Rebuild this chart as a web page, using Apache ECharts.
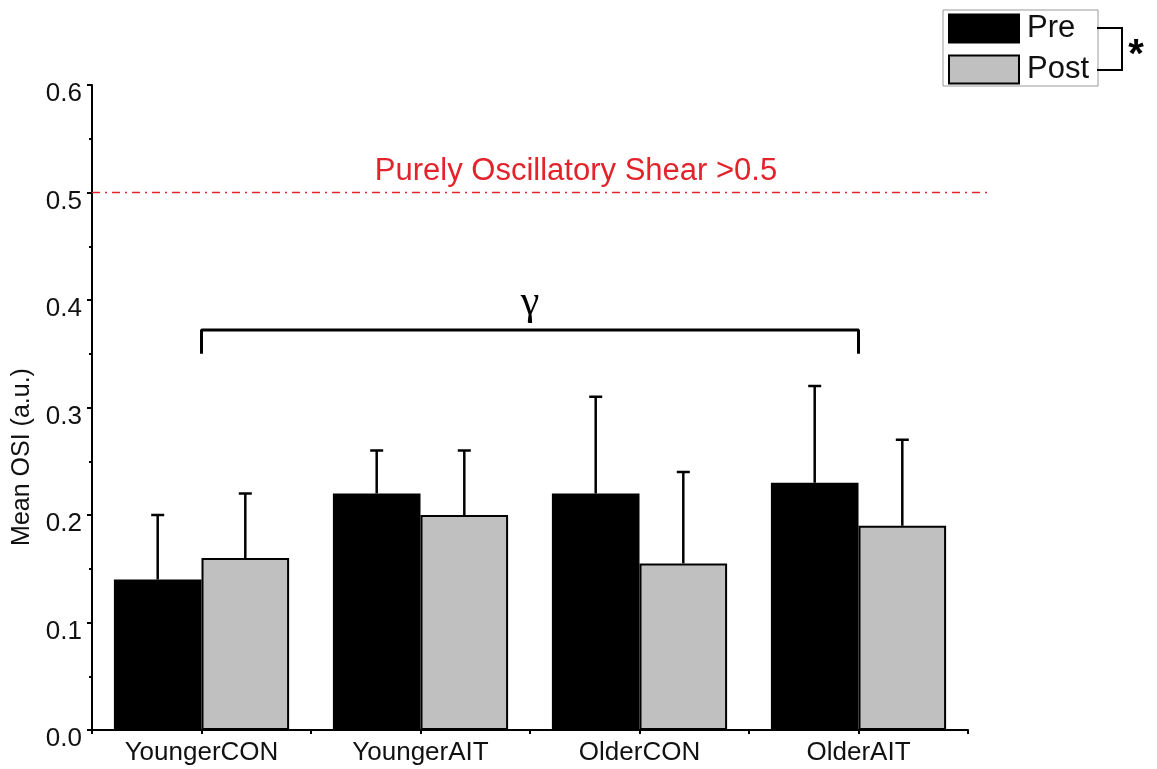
<!DOCTYPE html>
<html>
<head>
<meta charset="utf-8">
<script src="https://cdn.jsdelivr.net/npm/echarts/dist/echarts.min.js"></script>
<style>
  html, body { margin: 0; padding: 0; background: #ffffff; }
  #chart { width: 1157px; height: 769px; }
</style>
</head>
<body>
<div id="chart"></div>
<script>
// Groups on the x axis
const categories = ['YoungerCON', 'YoungerAIT', 'OlderCON', 'OlderAIT'];
// Mean oscillatory shear index per group, before and after training
const preMean  = [0.14, 0.22, 0.22, 0.23];
const postMean = [0.16, 0.20, 0.155, 0.19];
// Standard deviations (upper error bars)
const preSD  = [0.06, 0.04, 0.09, 0.09];
const postSD = [0.06, 0.06, 0.085, 0.08];
// Y axis range and reference threshold
const yTicks = { min: 0, max: 0.6, interval: 0.1 };
const oscThreshold = 0.5;
// Group-effect bracket: spans first to last group
const bracketSpan = [0, 3];
const bracketLevels = { foot: 0.35, top: 0.372 };

const FONT = '"Liberation Sans", Arial, sans-serif';
const GRID = { left: 92, right: 189, top: 85, bottom: 39 };

const chart = echarts.init(document.getElementById('chart'), null, { renderer: 'canvas' });

function errorBars(name, means, sds, side) {
  return {
    type: 'custom',
    name: name,
    z: 5,
    silent: true,
    data: means.map((m, i) => [i, m, m + sds[i]]),
    renderItem: function (params, api) {
      const i = api.value(0);
      const base = api.coord([i, api.value(1)]);
      const top = api.coord([i, api.value(2)]);
      const band = api.size([1, 0])[0];
      const x = base[0] + side * band * 0.2;
      const cap = 6.5;
      const st = { stroke: '#000', lineWidth: 2.5 };
      return {
        type: 'group',
        children: [
          { type: 'line', shape: { x1: x, y1: base[1], x2: x, y2: top[1] }, style: st },
          { type: 'line', shape: { x1: x - cap, y1: top[1], x2: x + cap, y2: top[1] }, style: st }
        ]
      };
    }
  };
}

const bracketData = [
  [bracketSpan[0], bracketLevels.foot],
  [bracketSpan[0], bracketLevels.top],
  [bracketSpan[1], bracketLevels.top],
  [bracketSpan[1], bracketLevels.foot]
];

const option = {
  backgroundColor: '#ffffff',
  animation: false,
  textStyle: { fontFamily: FONT },
  grid: GRID,
  legend: {
    data: ['Pre', 'Post'],
    orient: 'vertical',
    left: 943,
    top: 10,
    padding: [3, 9, 1, 5],
    itemWidth: 70,
    itemHeight: 28,
    itemGap: 10,
    icon: 'rect',
    borderColor: '#9a9a9a',
    borderWidth: 1,
    selectedMode: false,
    textStyle: { fontFamily: FONT, fontSize: 31, color: '#111', lineHeight: 28, padding: [0, 0, 0, 3] }
  },
  xAxis: [
    {
      type: 'category',
      data: categories,
      axisLine: { lineStyle: { color: '#000', width: 2 } },
      axisTick: { show: true, length: 4, lineStyle: { color: '#000', width: 2 } },
      axisLabel: { fontFamily: FONT, fontSize: 26, color: '#111', margin: 10 },
      splitLine: { show: false }
    },
    {
      type: 'category',
      data: categories,
      position: 'bottom',
      axisLine: { show: false },
      axisTick: { show: true, alignWithLabel: true, length: 4, lineStyle: { color: '#000', width: 2 } },
      axisLabel: { show: false },
      splitLine: { show: false }
    }
  ],
  yAxis: {
    type: 'value',
    min: yTicks.min,
    max: yTicks.max,
    interval: yTicks.interval,
    axisLine: { show: true, lineStyle: { color: '#000', width: 2 } },
    axisTick: { show: true, length: 5, lineStyle: { color: '#000', width: 2 } },
    minorTick: { show: true, splitNumber: 2, length: 3, lineStyle: { color: '#000', width: 2 } },
    axisLabel: {
      fontFamily: FONT, fontSize: 26, color: '#111', margin: 10,
      verticalAlign: 'top',
      lineHeight: 18,
      formatter: v => v.toFixed(1)
    },
    splitLine: { show: false }
  },
  series: [
    {
      name: 'Pre',
      type: 'bar',
      data: preMean,
      barGap: '0%',
      barCategoryGap: '20%',
      itemStyle: { color: '#000000', borderColor: '#000000', borderWidth: 2 }
    },
    {
      name: 'Post',
      type: 'bar',
      data: postMean,
      barGap: '0%',
      barCategoryGap: '20%',
      itemStyle: { color: '#c0c0c0', borderColor: '#000000', borderWidth: 2 }
    },
    errorBars('Pre SD', preMean, preSD, -1),
    errorBars('Post SD', postMean, postSD, 1),
    {
      name: 'Group effect',
      type: 'line',
      data: bracketData,
      symbol: 'none',
      silent: true,
      z: 6,
      lineStyle: { color: '#000', width: 3 }
    }
  ]
};

chart.setOption(option);

// Annotations positioned from the axis scales
const yThr = chart.convertToPixel({ yAxisIndex: 0 }, oscThreshold);
const yBr = chart.convertToPixel({ yAxisIndex: 0 }, bracketLevels.top);
const xA = chart.convertToPixel({ xAxisIndex: 0 }, bracketSpan[0]);
const xB = chart.convertToPixel({ xAxisIndex: 0 }, bracketSpan[1]);
const RED = '#e3232b';

chart.setOption({
  graphic: [
    {
      type: 'text',
      x: 22,
      y: 457,
      rotation: Math.PI / 2,
      style: {
        text: 'Mean OSI (a.u.)',
        fill: '#111',
        font: '25px ' + FONT,
        textAlign: 'center',
        textVerticalAlign: 'middle'
      }
    },
    {
      type: 'line',
      shape: { x1: GRID.left, y1: yThr, x2: 987, y2: yThr },
      style: { stroke: RED, lineWidth: 1.5, lineDash: [8, 5, 2, 5] },
      z: 10
    },
    {
      type: 'text',
      x: 576,
      y: yThr - 6,
      style: {
        text: 'Purely Oscillatory Shear >0.5',
        fill: RED,
        font: '31px ' + FONT,
        textAlign: 'center',
        textVerticalAlign: 'bottom'
      },
      z: 10
    },
    {
      type: 'text',
      x: (xA + xB) / 2,
      y: yBr - 6,
      style: {
        text: 'γ',
        fill: '#000',
        font: '42px "Liberation Serif", "Times New Roman", serif',
        textAlign: 'center',
        textVerticalAlign: 'bottom'
      },
      z: 10
    },
    {
      type: 'polyline',
      shape: { points: [[1097, 28], [1122, 28], [1122, 70], [1097, 70]] },
      style: { stroke: '#000', lineWidth: 2, fill: null },
      z: 10
    },
    {
      type: 'text',
      x: 1136,
      y: 56,
      style: {
        text: '*',
        fill: '#000',
        font: 'bold 40px ' + FONT,
        textAlign: 'center',
        textVerticalAlign: 'middle'
      },
      z: 10
    }
  ]
});
</script>
</body>
</html>
